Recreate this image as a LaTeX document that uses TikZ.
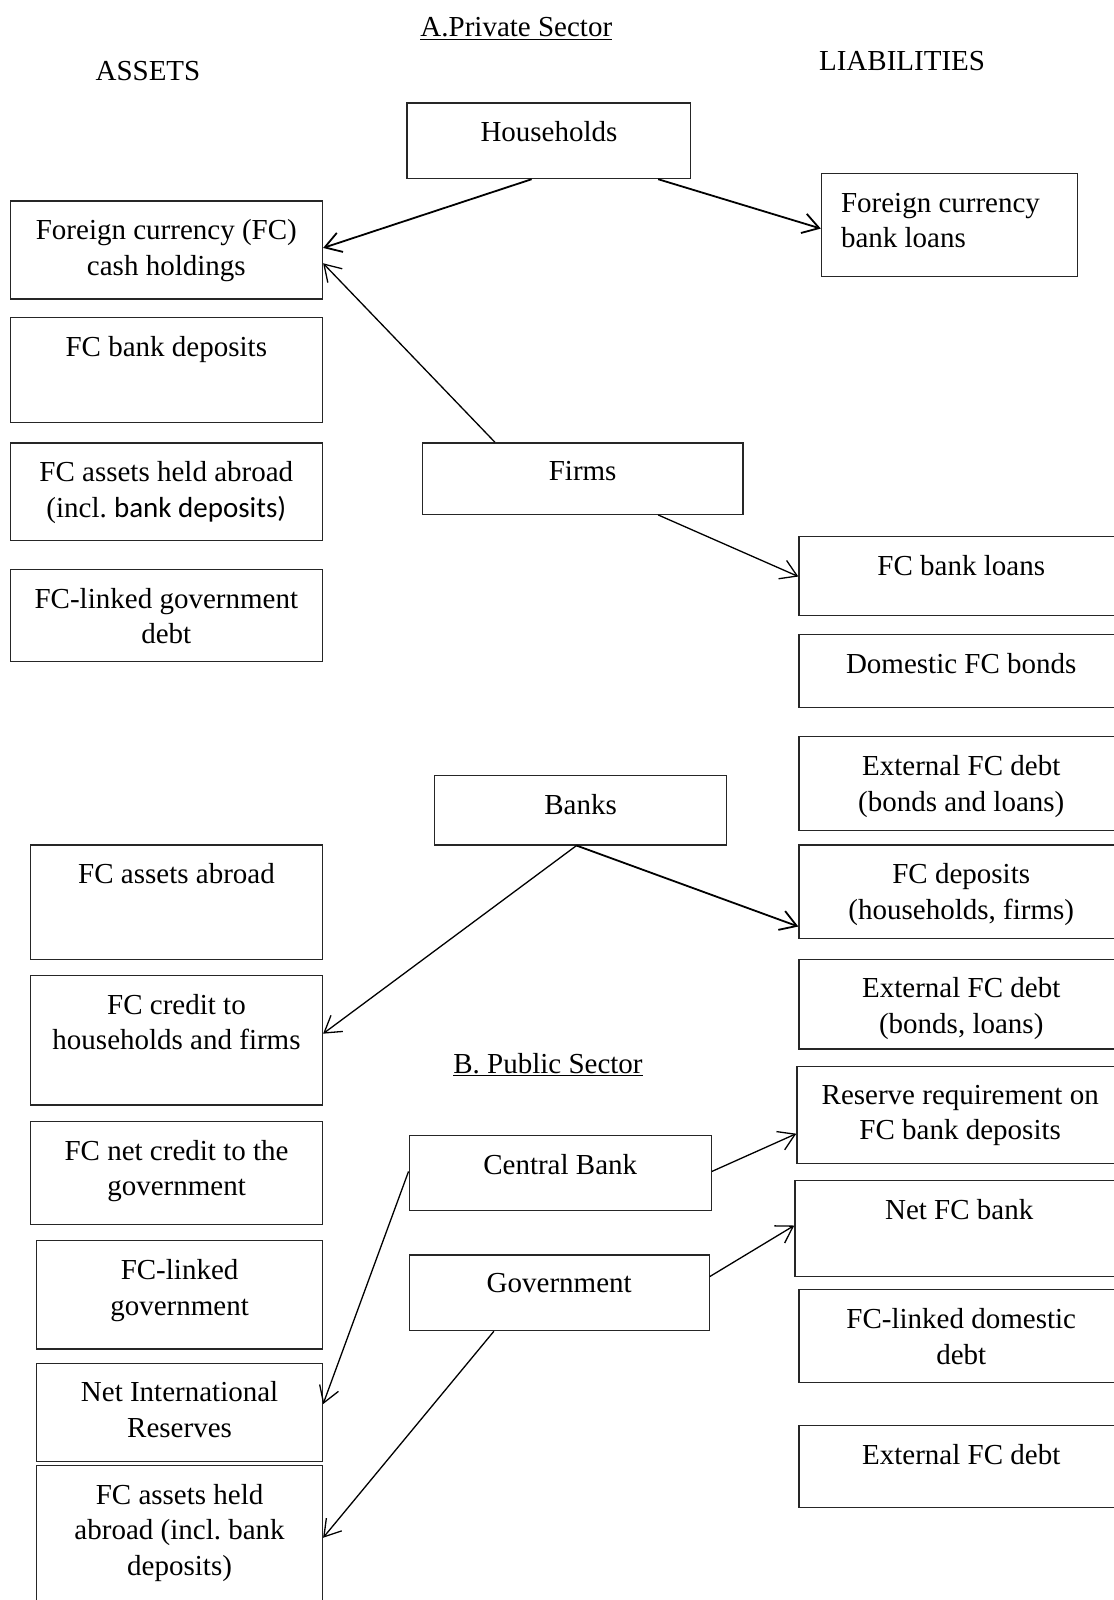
\documentclass[tikz,border=0pt]{standalone}
\usepackage{fontspec}
\setmainfont{Liberation Serif}
\newfontfamily\calibrifont{Carlito}
\usetikzlibrary{arrows.meta,fit}
\frenchspacing

% one drawing unit = 1.0202pt, y grows downwards
\tikzset{
  frame/.style={draw=black!85, line width=1.3pt, inner sep=0pt, rectangle},
  txt/.style={font=\fontsize{29}{35.7}\selectfont, align=center, inner sep=0pt, anchor=north},
  lbl/.style={font=\fontsize{29}{35.7}\selectfont, inner sep=0pt},
  arr/.style={-{Straight Barb[length=16pt,width=20pt]}, line width=1.8pt},
  thinarr/.style={-{Straight Barb[length=16pt,width=20pt]}, line width=1.3pt},
}

% \acctbox{name}{x1}{y1}{x2}{y2}{text}: frame with its text set at the top
\newcommand\acctbox[6]{%
  \node[frame, fit={(#2,#3) (#4,#5)}] (#1) {};
  \node[txt] (#1t) at ([yshift=-19pt]#1.north) {#6};
}

\begin{document}
\begin{tikzpicture}[x=1.0202pt, y=-1.0202pt]
\useasboundingbox (0,0) rectangle (1091,1568);
\fill[white] (0,0) rectangle (1091,1568);

% headings
\node[lbl] (hA) at (506,28) {\underline{A.Private Sector}};
\node[lbl] (hAssets) at (145,70) {ASSETS};
\node[lbl] (hLiab) at (884,60) {LIABILITIES};
\node[lbl] (hB) at (537,1043) {\underline{B. Public Sector}};

% ---- private sector: agents
\acctbox{hh}{399}{101}{677}{175}{Households}
\acctbox{firms}{414}{434}{728}{504}{Firms}
\acctbox{banks}{426}{760}{712}{828}{Banks}

% ---- private sector: assets
\acctbox{cash}{10}{197}{316}{293}{Foreign currency (FC)\\cash holdings}
\acctbox{bdep}{10}{311}{316}{414}{FC bank deposits}
\acctbox{abr}{10}{434}{316}{530}{FC assets held abroad\\(incl. {\calibrifont bank deposits)}}
\acctbox{lgd}{10}{558}{316}{648}{FC-linked government\\debt}
\acctbox{fcab}{30}{828}{316}{940}{FC assets abroad}
\acctbox{cred}{30}{956}{316}{1083}{FC credit to\\households and firms}

% ---- private sector: liabilities
\node[frame, fit={(805,170) (1056,271)}] (fcl) {};
\node[txt, anchor=north west, align=left] (fclt) at (824,189) {Foreign currency\\bank loans};
\acctbox{bl}{783}{526}{1101}{603}{FC bank loans}
\acctbox{dfb}{783}{622}{1101}{693}{Domestic FC bonds}
\acctbox{ext1}{783}{722}{1101}{814}{External FC debt\\(bonds and loans)}
\acctbox{dep}{783}{828}{1101}{920}{FC deposits\\(households, firms)}
\acctbox{ext2}{783}{940}{1101}{1028}{External FC debt\\(bonds, loans)}

% ---- public sector: agents
\acctbox{cb}{401}{1113}{697}{1186}{Central Bank}
\acctbox{gov}{401}{1230}{695}{1304}{Government}

% ---- public sector: assets
\acctbox{ncg}{30}{1099}{316}{1200}{FC net credit to the\\government}
\acctbox{lg}{36}{1216}{316}{1322}{FC-linked\\government}
\acctbox{nir}{36}{1336}{316}{1432}{Net International\\Reserves}
\acctbox{abr2}{36}{1436}{316}{1590}{FC assets held\\abroad (incl. bank\\deposits)}

% ---- public sector: liabilities
\acctbox{rr}{781}{1045}{1101}{1140}{Reserve requirement on\\FC bank deposits}
\acctbox{nfb}{779}{1157}{1101}{1251}{Net FC bank}
\acctbox{ldd}{783}{1264}{1101}{1355}{FC-linked domestic\\debt}
\acctbox{ext3}{783}{1397}{1101}{1477}{External FC debt}

% ---- connectors
\draw[arr] (hh.south -| 521,0) -- (cash.east |- 0,243);
\draw[arr] (hh.south -| 645,0) -- (fcl.west |- 0,224);
\draw[thinarr] (firms.north -| 485,0) -- (cash.east |- 0,258);
\draw[thinarr] (firms.south -| 645,0) -- (bl.west |- 0,565);
\draw[arr] (banks.south -| 565,0) -- (dep.west |- 0,908);
\draw[thinarr] (banks.south -| 565,0) -- (cred.east |- 0,1013);
\draw[thinarr] (cb.east |- 0,1148) -- (rr.west |- 0,1111);
\draw[thinarr] (cb.west |- 0,1148) -- (nir.east |- 0,1376);
\draw[thinarr] (gov.east |- 0,1251) -- (nfb.west |- 0,1201);
\draw[thinarr] (gov.south -| 484,0) -- (abr2.east |- 0,1507);
\end{tikzpicture}
\end{document}
